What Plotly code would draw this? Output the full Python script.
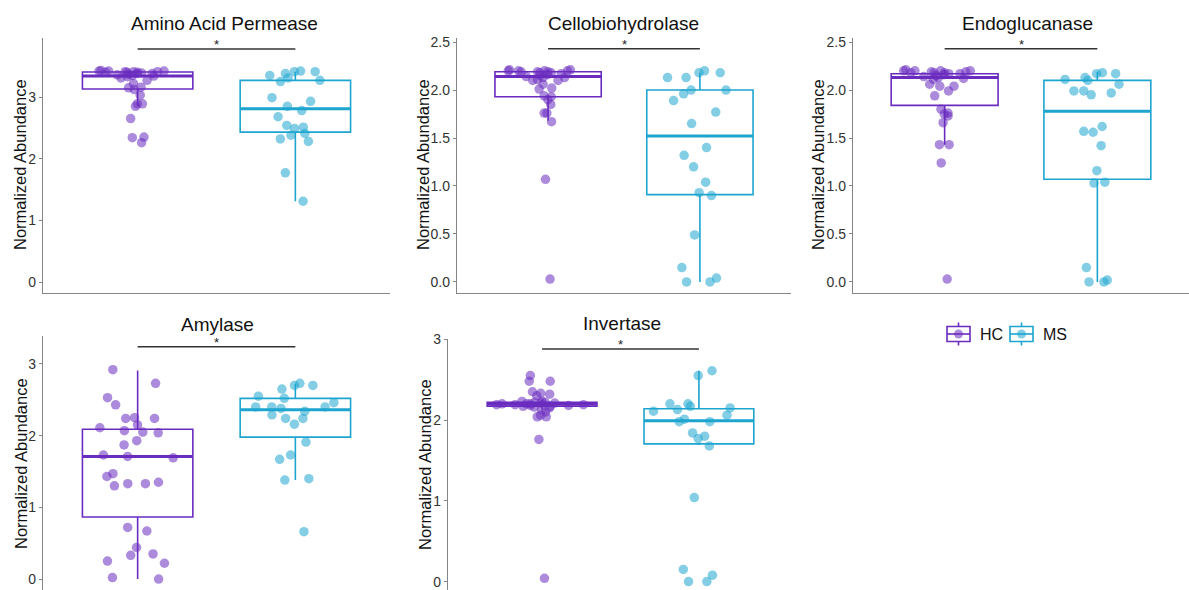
import plotly.graph_objects as go

# ---------------- data ----------------
groups = ["HC", "MS"]
group_pos = [1, 2]
panel_titles = ["Amino Acid Permease", "Cellobiohydrolase", "Endoglucanase", "Amylase", "Invertase"]
y_title = "Normalized Abundance"

aap_hc = [3.43, 3.42, 3.42, 3.42, 3.41, 3.41, 3.41, 3.40, 3.40, 3.40, 3.39, 3.38, 3.38, 3.37, 3.36, 3.35,
          3.34, 3.33, 3.31, 3.27, 3.22, 3.16, 3.15, 3.12, 3.03, 2.89, 2.89, 2.85, 2.65, 2.35, 2.34, 2.26]
aap_ms = [3.41, 3.42, 3.38, 3.41, 3.35, 3.25, 3.27, 3.31, 2.93, 2.99, 2.85, 2.78, 2.68, 2.49, 2.51,
          2.54, 2.41, 2.32, 2.38, 2.28, 1.77, 1.31]

cbh_hc = [2.21, 2.21, 2.20, 2.20, 2.20, 2.20, 2.19, 2.19, 2.19, 2.18, 2.18, 2.17, 2.16, 2.15, 2.14, 2.13,
          2.13, 2.11, 2.10, 2.10, 2.06, 2.02, 2.01, 1.94, 1.93, 1.90, 1.85, 1.76, 1.76, 1.67, 1.07, 0.03]
cbh_ms = [2.18, 2.20, 2.18, 2.13, 2.13, 2.00, 2.00, 1.89, 1.96, 1.77, 1.65, 1.40, 1.32, 1.20, 1.04,
          0.90, 0.93, 0.49, 0.15, 0.04, 0.00, 0.00]

egl_hc = [2.21, 2.20, 2.20, 2.20, 2.20, 2.19, 2.19, 2.18, 2.18, 2.18, 2.17, 2.17, 2.16, 2.15, 2.14, 2.13,
          2.12, 2.11, 2.06, 2.04, 2.04, 1.99, 1.94, 1.80, 1.76, 1.75, 1.73, 1.66, 1.43, 1.43, 1.24, 0.03]
egl_ms = [2.17, 2.18, 2.17, 2.11, 2.13, 2.10, 2.06, 1.97, 1.99, 1.99, 1.95, 1.62, 1.56, 1.57, 1.42,
          1.16, 1.04, 1.03, 0.15, 0.02, 0.00, 0.00]

amy_hc = [2.92, 2.73, 2.53, 2.43, 2.24, 2.24, 2.25, 2.15, 2.11, 2.05, 2.07, 2.04, 1.93, 1.87, 1.73, 1.71,
          1.69, 1.47, 1.43, 1.35, 1.33, 1.33, 1.30, 0.72, 0.67, 0.44, 0.35, 0.33, 0.25, 0.22, 0.00, 0.02]
amy_ms = [2.70, 2.65, 2.73, 2.70, 2.55, 2.52, 2.46, 2.40, 2.40, 2.40, 2.38, 2.34, 2.29, 2.24, 2.24,
          2.16, 1.91, 1.73, 1.67, 1.40, 1.38, 0.66]

inv_hc = [2.55, 2.48, 2.48, 2.35, 2.33, 2.32, 2.30, 2.23, 2.23, 2.22, 2.22, 2.21, 2.21, 2.20, 2.20, 2.20,
          2.19, 2.19, 2.19, 2.18, 2.18, 2.17, 2.17, 2.16, 2.15, 2.13, 2.10, 2.06, 2.04, 2.04, 1.76, 0.04]
inv_ms = [2.61, 2.55, 2.20, 2.20, 2.17, 2.15, 2.13, 2.11, 2.06, 2.01, 1.98, 1.98, 1.84, 1.80, 1.77,
          1.68, 1.04, 0.15, 0.08, 0.00, 0.00]

hc_values = [aap_hc, cbh_hc, egl_hc, amy_hc, inv_hc]
ms_values = [aap_ms, cbh_ms, egl_ms, amy_ms, inv_ms]

# box statistics (per panel)
hc_q1 = [3.13, 1.93, 1.84, 0.865, 2.17]
hc_median = [3.34, 2.14, 2.13, 1.71, 2.195]
hc_q3 = [3.405, 2.19, 2.17, 2.09, 2.22]
hc_lower = [2.85, 1.68, 1.43, 0.00, 2.13]
hc_upper = [3.43, 2.21, 2.21, 2.91, 2.25]

ms_q1 = [2.43, 0.91, 1.07, 1.98, 1.705]
ms_median = [2.81, 1.52, 1.78, 2.36, 1.99]
ms_q3 = [3.27, 2.00, 2.10, 2.52, 2.14]
ms_lower = [1.31, 0.00, 0.00, 1.38, 1.69]
ms_upper = [3.41, 2.18, 2.19, 2.72, 2.61]

sig_y = [3.78, 2.43, 2.43, 3.24, 2.88]
sig_label = ["*", "*", "*", "*", "*"]

y_ticks = [[0, 1, 2, 3], [0, 0.5, 1, 1.5, 2, 2.5], [0, 0.5, 1, 1.5, 2, 2.5], [0, 1, 2, 3], [0, 1, 2, 3]]
y_tickfmt = ["d", ".1f", ".1f", "d", "d"]

# ---------------- layout geometry / style ----------------
W, H = 1189, 590
# (left, right, top, bottom) in pixels
panel_px = [(43, 390, 38, 293), (457, 791, 38, 293), (853, 1189, 38, 293),
            (43, 390, 336, 590), (448, 793, 339, 590)]
y_ranges = [[-0.178, 3.957], [-0.115, 2.542], [-0.115, 2.542], [-0.153, 3.39], [-0.104, 3.003]]
title_xy_px = [(224, 23), (623, 23), (1027, 23), (217, 324), (622, 323)]
ytitle_xy_px = [(20, 165), (423, 165), (818, 165), (21, 464), (425, 465)]
show_xline = [True, True, True, False, False]

HC_COL = "#6A2BBF"
MS_COL = "#1DA5CF"
colors = {"HC": HC_COL, "MS": MS_COL}
box_w = 0.7
FONT = "Liberation Sans, Arial, sans-serif"
AXIS_COL = "#858585"

def px_x(v):
    return v / W

def px_y(v):
    return 1 - v / H

fig = go.Figure()
layout = dict(
    template="none",
    width=W, height=H, margin=dict(l=0, r=0, t=0, b=0, pad=0),
    paper_bgcolor="white", plot_bgcolor="white",
    font=dict(family=FONT, color="#222"),
    boxmode="overlay",
    showlegend=False,
    annotations=[], shapes=[],
)

for i in range(5):
    k = "" if i == 0 else str(i + 1)
    xa, ya = "x" + k, "y" + k
    l, r, t, b = panel_px[i]
    layout["xaxis" + k] = dict(domain=[l / W, r / W], range=[0.4, 2.6], anchor=ya, automargin=False,
                               showline=show_xline[i], linecolor=AXIS_COL, linewidth=1.3,
                               showticklabels=False, ticks="", showgrid=False, zeroline=False,
                               fixedrange=True)
    layout["yaxis" + k] = dict(domain=[1 - b / H, 1 - t / H], range=y_ranges[i], anchor=xa, automargin=False,
                               showline=True, linecolor=AXIS_COL, linewidth=1.3,
                               ticks="outside", ticklen=3, tickcolor=AXIS_COL, tickwidth=1,
                               tickvals=y_ticks[i], tickformat=y_tickfmt[i],
                               tickfont=dict(size=14, color="#333"),
                               showgrid=False, zeroline=False)
    tx, ty = title_xy_px[i]
    layout["annotations"].append(dict(text=panel_titles[i], x=px_x(tx), y=px_y(ty),
                                      xref="paper", yref="paper", showarrow=False,
                                      font=dict(size=19, color="#111"), xanchor="center", yanchor="middle"))
    yx, yy = ytitle_xy_px[i]
    layout["annotations"].append(dict(text=y_title, x=px_x(yx), y=px_y(yy), textangle=-90,
                                      xref="paper", yref="paper", showarrow=False,
                                      font=dict(size=16.5, color="#111"), xanchor="center", yanchor="middle"))

    stats = {"HC": (hc_q1[i], hc_median[i], hc_q3[i], hc_lower[i], hc_upper[i], hc_values[i]),
             "MS": (ms_q1[i], ms_median[i], ms_q3[i], ms_lower[i], ms_upper[i], ms_values[i])}
    for g, pos in zip(groups, group_pos):
        q1, med, q3, lo, hi, vals = stats[g]
        col = colors[g]
        # box (precomputed statistics)
        fig.add_trace(go.Box(x=[pos], q1=[q1], median=[med], q3=[q3], lowerfence=[lo], upperfence=[hi],
                             width=box_w, whiskerwidth=0, line=dict(color=col, width=1.6),
                             fillcolor="rgba(0,0,0,0)",
                             boxpoints=False, name=g, legendgroup=g, showlegend=False,
                             xaxis=xa, yaxis=ya, hoverinfo="skip"))
        # thicker median line
        fig.add_trace(go.Scatter(x=[pos - box_w / 2, pos + box_w / 2], y=[med, med], mode="lines",
                                 line=dict(color=col, width=3), showlegend=False, hoverinfo="skip",
                                 xaxis=xa, yaxis=ya))
        # jittered points
        fig.add_trace(go.Box(x=[pos] * len(vals), y=vals, boxpoints="all", jitter=0.85, pointpos=0,
                             width=box_w, whiskerwidth=0, line=dict(color="rgba(0,0,0,0)", width=0),
                             fillcolor="rgba(0,0,0,0)",
                             marker=dict(color=col, size=9.5, opacity=0.55, line=dict(width=0)),
                             name=g, legendgroup=g, showlegend=False, xaxis=xa, yaxis=ya))
    # significance bar
    fig.add_trace(go.Scatter(x=[group_pos[0], group_pos[1]], y=[sig_y[i], sig_y[i]], mode="lines",
                             line=dict(color="#333", width=1.5), showlegend=False, hoverinfo="skip",
                             xaxis=xa, yaxis=ya))
    layout["annotations"].append(dict(text=sig_label[i], x=(group_pos[0] + group_pos[1]) / 2, y=sig_y[i],
                                      xref=xa, yref=ya, showarrow=False, yanchor="bottom", yshift=-5,
                                      font=dict(size=13, color="#222")))

# ---------------- legend (ggplot-style boxplot keys) ----------------
legend_left_px = [947, 1010]
leg_cy = 334
for g, lx in zip(groups, legend_left_px):
    col = colors[g]
    cx = lx + 11.5
    layout["shapes"] += [
        dict(type="rect", xref="paper", yref="paper", x0=px_x(lx), x1=px_x(lx + 23),
             y0=px_y(leg_cy + 7.5), y1=px_y(leg_cy - 7.5), line=dict(color=col, width=1.6),
             fillcolor="rgba(0,0,0,0)"),
        dict(type="line", xref="paper", yref="paper", x0=px_x(lx), x1=px_x(lx + 23),
             y0=px_y(leg_cy), y1=px_y(leg_cy), line=dict(color=col, width=1.6)),
        dict(type="line", xref="paper", yref="paper", x0=px_x(cx), x1=px_x(cx),
             y0=px_y(leg_cy - 11.5), y1=px_y(leg_cy - 7.5), line=dict(color=col, width=1.6)),
        dict(type="line", xref="paper", yref="paper", x0=px_x(cx), x1=px_x(cx),
             y0=px_y(leg_cy + 7.5), y1=px_y(leg_cy + 11.5), line=dict(color=col, width=1.6)),
        dict(type="circle", xref="paper", yref="paper", x0=px_x(cx - 4.5), x1=px_x(cx + 4.5),
             y0=px_y(leg_cy + 4.5), y1=px_y(leg_cy - 4.5), line=dict(width=0),
             fillcolor=col, opacity=0.55),
    ]
    layout["annotations"].append(dict(text=g, x=px_x(lx + 31), y=px_y(leg_cy), xref="paper", yref="paper",
                                      showarrow=False, xanchor="left", yanchor="middle",
                                      font=dict(size=16, color="#111")))

fig.update_layout(**layout)
fig.write_html("out.html")
